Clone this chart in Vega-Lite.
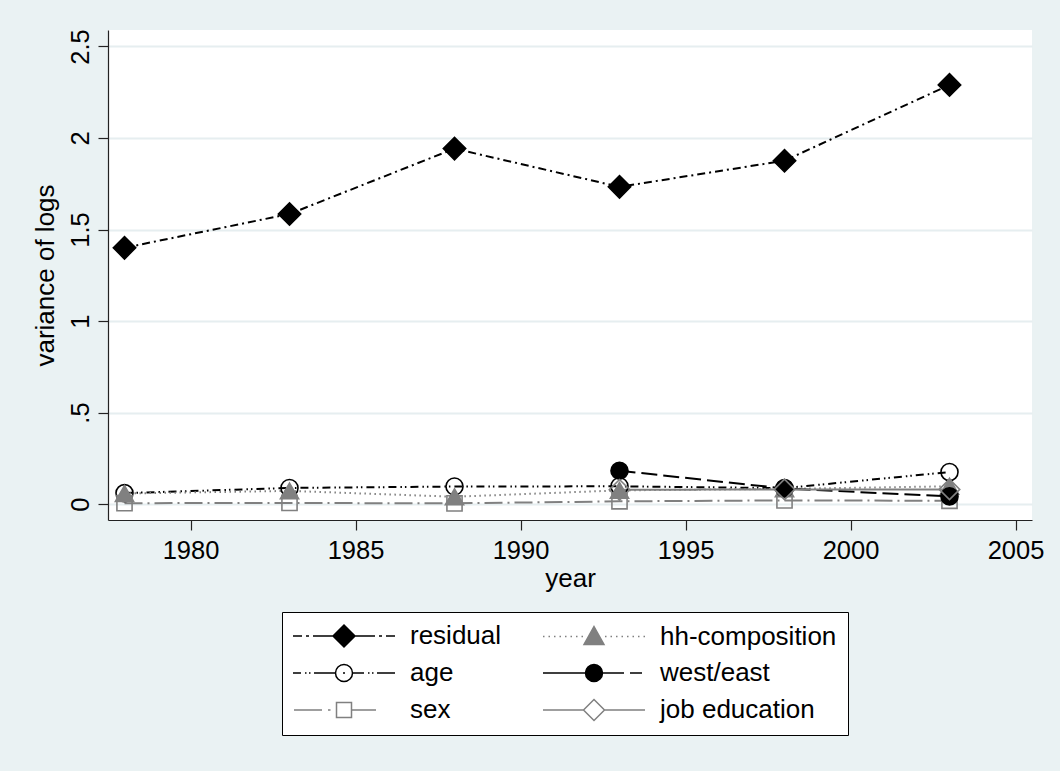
{
  "$schema": "https://vega.github.io/schema/vega-lite/v6.json",
  "width": 924,
  "height": 490,
  "autosize": {"type": "none"},
  "padding": {"left": 108, "top": 30, "right": 28, "bottom": 251},
  "background": "#EAF2F3",
  "config": {
    "font": "Liberation Sans",
    "view": {"fill": "white", "stroke": null},
    "legend": {
      "orient": "none",
      "direction": "horizontal",
      "legendX": 174,
      "legendY": 582,
      "columns": 2,
      "symbolSize": 4,
      "symbolOffset": 38,
      "labelOffset": 53,
      "labelFont": "Liberation Sans",
      "labelFontSize": 26,
      "labelColor": "black",
      "labelLimit": 500,
      "padding": 11,
      "rowPadding": 10,
      "columnPadding": 38,
      "strokeColor": "black",
      "fillColor": "white",
      "symbolStrokeWidth": 1.5,
      "symbolOpacity": 1,
      "cornerRadius": 0
    }
  },
  "data": {
    "values": [
      {"year": 1978, "series": "residual", "value": 1.40},
      {"year": 1983, "series": "residual", "value": 1.585},
      {"year": 1988, "series": "residual", "value": 1.942},
      {"year": 1993, "series": "residual", "value": 1.733},
      {"year": 1998, "series": "residual", "value": 1.876},
      {"year": 2003, "series": "residual", "value": 2.29},
      {"year": 1978, "series": "age", "value": 0.06},
      {"year": 1983, "series": "age", "value": 0.088},
      {"year": 1988, "series": "age", "value": 0.096},
      {"year": 1993, "series": "age", "value": 0.097},
      {"year": 1998, "series": "age", "value": 0.087},
      {"year": 2003, "series": "age", "value": 0.175},
      {"year": 1978, "series": "sex", "value": 0.005},
      {"year": 1983, "series": "sex", "value": 0.006},
      {"year": 1988, "series": "sex", "value": 0.004},
      {"year": 1993, "series": "sex", "value": 0.015},
      {"year": 1998, "series": "sex", "value": 0.02},
      {"year": 2003, "series": "sex", "value": 0.018},
      {"year": 1978, "series": "hh-composition", "value": 0.058},
      {"year": 1983, "series": "hh-composition", "value": 0.072},
      {"year": 1988, "series": "hh-composition", "value": 0.04},
      {"year": 1993, "series": "hh-composition", "value": 0.075},
      {"year": 1998, "series": "hh-composition", "value": 0.083},
      {"year": 2003, "series": "hh-composition", "value": 0.097},
      {"year": 1993, "series": "west/east", "value": 0.182},
      {"year": 1998, "series": "west/east", "value": 0.085},
      {"year": 2003, "series": "west/east", "value": 0.042},
      {"year": 1993, "series": "job education", "value": 0.078},
      {"year": 1998, "series": "job education", "value": 0.08},
      {"year": 2003, "series": "job education", "value": 0.08}
    ]
  },
  "encoding": {
    "x": {
      "field": "year",
      "type": "quantitative",
      "scale": {"domain": [1977.5, 2005.5], "nice": false, "zero": false},
      "axis": {
        "values": [1980, 1985, 1990, 1995, 2000, 2005],
        "format": "d",
        "grid": false,
        "domainColor": "#222222",
        "domainWidth": 1.2,
        "tickColor": "#222222",
        "tickWidth": 1.2,
        "tickSize": 10,
        "labelFontSize": 25.5,
        "labelColor": "black",
        "labelPadding": 8,
        "labelFlush": false,
        "title": "year",
        "titleFontSize": 26,
        "titleFontWeight": "normal",
        "titleColor": "black",
        "titlePadding": 2
      }
    },
    "y": {
      "field": "value",
      "type": "quantitative",
      "scale": {"domain": [-0.087, 2.59], "nice": false, "zero": false},
      "axis": {
        "values": [0, 0.5, 1, 1.5, 2, 2.5],
        "labelExpr": "datum.value == 0 ? '0' : datum.value == 0.5 ? '.5' : format(datum.value, '~g')",
        "grid": true,
        "gridColor": "#E6EEF0",
        "gridWidth": 2,
        "domainColor": "#222222",
        "domainWidth": 1.2,
        "tickColor": "#222222",
        "tickWidth": 1.2,
        "tickSize": 10,
        "labelAngle": -90,
        "labelAlign": "center",
        "labelBaseline": "alphabetic",
        "labelFontSize": 25.5,
        "labelColor": "black",
        "labelPadding": 10,
        "labelFlush": false,
        "title": "variance of logs",
        "titleFontSize": 26,
        "titleFontWeight": "normal",
        "titleColor": "black",
        "titlePadding": 10
      }
    }
  },
  "layer": [
    {
      "mark": {"type": "line", "strokeWidth": 2},
      "encoding": {
        "color": {
          "field": "series",
          "type": "nominal",
          "scale": {
            "domain": ["residual", "hh-composition", "age", "west/east", "sex", "job education"],
            "range": ["#000000", "#808080", "#000000", "#000000", "#808080", "#808080"]
          },
          "legend": null
        },
        "strokeDash": {
          "field": "series",
          "type": "nominal",
          "scale": {
            "domain": ["residual", "hh-composition", "age", "west/east", "sex", "job education"],
            "range": [[8, 4, 2, 4], [1.5, 3.5], [8, 4, 1.5, 3, 1.5, 4], [16, 6], [18, 5, 2, 5], [1, 0]]
          },
          "legend": null
        }
      }
    },
    {
      "mark": {"type": "point", "filled": true, "opacity": 1, "strokeWidth": 1.6},
      "encoding": {
        "shape": {
          "field": "series",
          "type": "nominal",
          "scale": {
            "domain": ["residual", "hh-composition", "age", "west/east", "sex", "job education"],
            "range": ["diamond", "triangle-up", "circle", "circle", "square", "diamond"]
          },
          "legend": null
        },
        "fill": {
          "field": "series",
          "type": "nominal",
          "scale": {
            "domain": ["residual", "hh-composition", "age", "west/east", "sex", "job education"],
            "range": ["#000000", "#808080", "transparent", "#000000", "transparent", "transparent"]
          },
          "legend": null
        },
        "stroke": {
          "field": "series",
          "type": "nominal",
          "scale": {
            "domain": ["residual", "hh-composition", "age", "west/east", "sex", "job education"],
            "range": ["#000000", "#808080", "#000000", "#000000", "#808080", "#808080"]
          },
          "legend": null
        },
        "size": {
          "field": "series",
          "type": "nominal",
          "scale": {
            "type": "ordinal",
            "domain": ["residual", "hh-composition", "age", "west/east", "sex", "job education"],
            "range": [500, 330, 290, 290, 230, 420]
          },
          "legend": null
        }
      }
    },
    {
      "mark": {"type": "point", "filled": true, "opacity": 0},
      "encoding": {
        "shape": {
          "field": "series",
          "type": "nominal",
          "scale": {
            "domain": ["residual", "hh-composition", "age", "west/east", "sex", "job education"],
            "range": [
              "M-51,0H-42M-38,0H-35M-31,0H-11M-11,0L0,-11L11,0L0,11ZM11,0H31M35,0H38M42,0H51",
              "M-51,0H-49.5M-45.5,0H-44M-40,0H-38.5M-34.5,0H-33M-29,0H-27.5M-23.5,0H-22M-18,0H-16.5M-12.5,0H-11M0,-10L10,8L-10,8ZM11,0H12.5M16.5,0H18M22,0H23.5M27.5,0H29M33,0H34.5M38.5,0H40M44,0H45.5M49.5,0H51",
              "M-51,0H-43M-39,0H-37.5M-35,0H-33.5M-30,0H-8.5M-8.5,0A8.5,8.5 0 1,1 8.5,0A8.5,8.5 0 1,1 -8.5,0ZM-1,0H1M8.5,0H20M24,0H25.5M28,0H29.5M33,0H51",
              "M-51,0H-8.5M-8.5,0A8.5,8.5 0 1,1 8.5,0A8.5,8.5 0 1,1 -8.5,0ZM8.5,0H30M36,0H48",
              "M-50,0H-22M-16,0H-13.5M-7.5,-7.5H7.5V7.5H-7.5ZM7.5,0H32",
              "M-51,0H-10.5M-10.5,0L0,-10.5L10.5,0L0,10.5ZM10.5,0H51"
            ]
          },
          "legend": {"title": null, "encode": {"symbols": {"update": {"opacity": {"value": 1}}}}}
        },
        "fill": {
          "field": "series",
          "type": "nominal",
          "scale": {
            "domain": ["residual", "hh-composition", "age", "west/east", "sex", "job education"],
            "range": ["#000000", "#808080", "transparent", "#000000", "transparent", "transparent"]
          },
          "legend": {"title": null, "encode": {"symbols": {"update": {"opacity": {"value": 1}}}}}
        },
        "stroke": {
          "field": "series",
          "type": "nominal",
          "scale": {
            "domain": ["residual", "hh-composition", "age", "west/east", "sex", "job education"],
            "range": ["#000000", "#808080", "#000000", "#000000", "#808080", "#808080"]
          },
          "legend": {"title": null, "encode": {"symbols": {"update": {"opacity": {"value": 1}}}}}
        }
      }
    }
  ],
  "resolve": {
    "scale": {"shape": "independent", "fill": "independent", "stroke": "independent", "size": "independent", "color": "independent", "strokeDash": "independent"}
  }
}
